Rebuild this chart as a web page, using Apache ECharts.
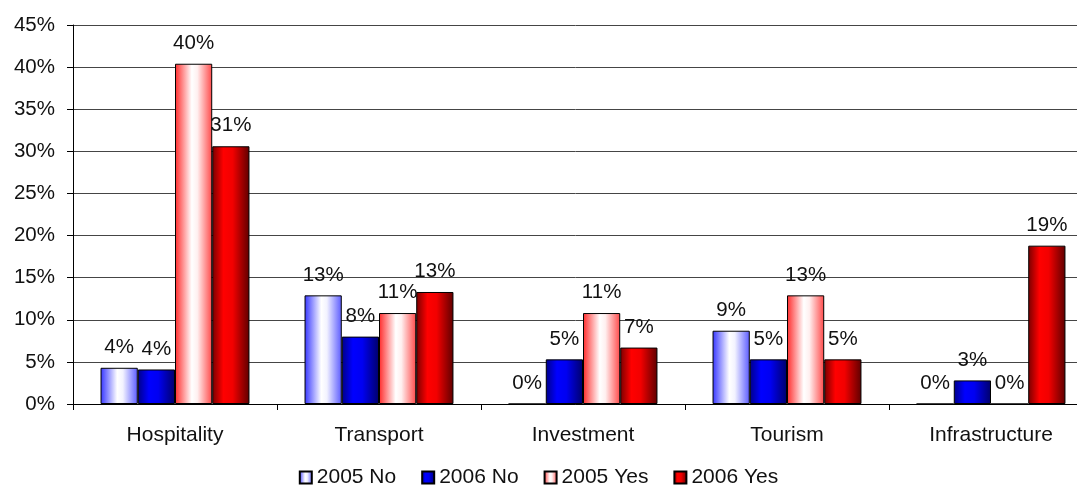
<!DOCTYPE html>
<html>
<head>
<meta charset="utf-8">
<style>
  html, body { margin: 0; padding: 0; background: #ffffff; }
  #chart { width: 1077px; height: 486px; }
</style>
<script src="https://cdn.jsdelivr.net/npm/echarts@6/dist/echarts.min.js"></script>
</head>
<body>
<div id="chart"></div>
<script>
// Sectors surveyed
const categories = ['Hospitality', 'Transport', 'Investment', 'Tourism', 'Infrastructure'];

// Share of answers per sector, in percent
const no2005  = [4.3, 12.9, 0,    8.7,  0];
const no2006  = [4.1, 8.0,  5.3,  5.3,  2.8];
const yes2005 = [40.4, 10.8, 10.8, 12.9, 0];
const yes2006 = [30.6, 13.3, 6.7,  5.3,  18.8];

const seriesNames = ['2005 No', '2006 No', '2005 Yes', '2006 Yes'];

// Value axis: 0–45 % in steps of 5
const yMin = 0, yMax = 45, yStep = 5;

const FONT = 'Liberation Sans, Arial, Helvetica, sans-serif';

function hGrad(stops) {
  return new echarts.graphic.LinearGradient(0, 0, 1, 0,
    stops.map(s => ({ offset: s[0], color: s[1] })));
}

const fills = [
  hGrad([[0, '#3434ff'], [0.45, '#ffffff'], [0.6, '#f2f2ff'], [1, '#5a5aff']]),
  hGrad([[0, '#000088'], [0.3, '#0000ff'], [0.55, '#0000f2'], [1, '#00006a']]),
  hGrad([[0, '#ff2a2a'], [0.45, '#ffffff'], [0.6, '#fff0f0'], [1, '#ff4848']]),
  hGrad([[0, '#780000'], [0.3, '#ff0000'], [0.55, '#f20000'], [1, '#5e0000']])
];

const dataSets = [no2005, no2006, yes2005, yes2006];

const series = dataSets.map((d, i) => ({
  name: seriesNames[i],
  type: 'bar',
  data: d,
  barGap: '0%',
  barCategoryGap: '27%',
  itemStyle: { color: fills[i], borderColor: '#000000', borderWidth: 1 },
  label: {
    show: true,
    position: 'top',
    distance: 10,
    color: '#111111',
    fontFamily: FONT,
    fontSize: 20.5,
    formatter: p => Math.round(p.value) + '%'
  },
  emphasis: { disabled: true }
}));

const chart = echarts.init(document.getElementById('chart'), null, { renderer: 'canvas' });

chart.setOption({
  animation: false,
  backgroundColor: '#ffffff',
  textStyle: { fontFamily: FONT },
  // The plot runs past the right edge of the canvas, so the last category is clipped
  grid: { left: 73, top: 25, width: 1020, height: 379, containLabel: false, outerBoundsMode: 'none' },
  legend: {
    data: seriesNames,
    top: 462,
    left: 'center',
    itemWidth: 12,
    itemHeight: 12,
    itemGap: 25,
    icon: 'rect',
    textStyle: { fontFamily: FONT, fontSize: 21, color: '#111111' }
  },
  xAxis: {
    type: 'category',
    data: categories,
    boundaryGap: true,
    axisLine: { lineStyle: { color: '#000000', width: 1 } },
    axisTick: { show: true, length: 6, alignWithLabel: false, lineStyle: { color: '#000000' } },
    axisLabel: { margin: 21, color: '#111111', fontFamily: FONT, fontSize: 21 },
    splitLine: { show: false }
  },
  yAxis: {
    type: 'value',
    min: yMin,
    max: yMax,
    interval: yStep,
    axisLine: { show: true, lineStyle: { color: '#000000', width: 1 } },
    axisTick: { show: true, length: 6, lineStyle: { color: '#000000' } },
    axisLabel: { margin: 18, color: '#111111', fontFamily: FONT, fontSize: 20.5, formatter: '{value}%' },
    splitLine: { show: true, lineStyle: { color: '#454545', width: 1 } }
  },
  series: series
});
</script>
</body>
</html>
